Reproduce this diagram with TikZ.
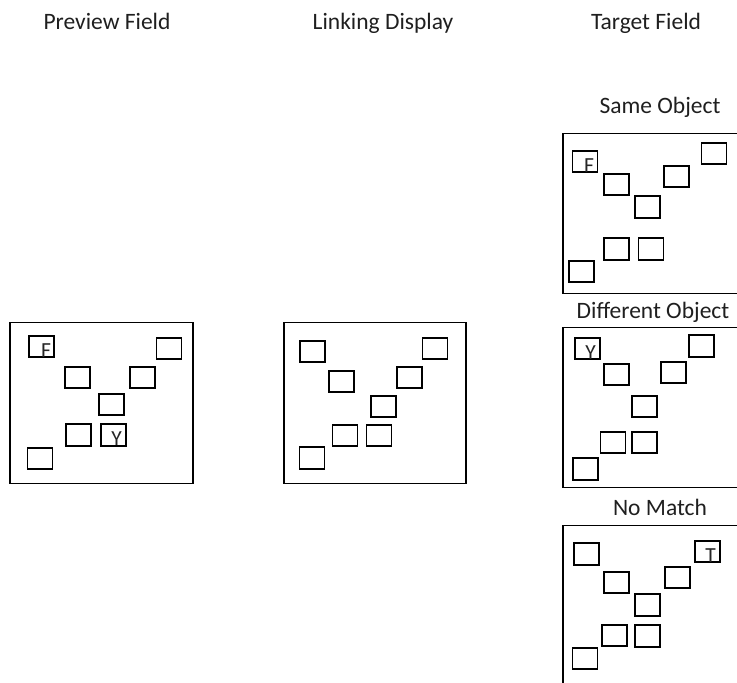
\documentclass[tikz,border=0pt]{standalone}
\usepackage{fontspec}
\setmainfont{Carlito}
\begin{document}
\begin{tikzpicture}[x=1pt,y=-1pt,
  panel/.style={draw=black,line width=1.4pt,inner sep=0pt,minimum width=#1,minimum height=160.5pt},
  sq/.style={draw=black,line width=1.8pt,inner sep=0pt,minimum width=25pt,minimum height=21.5pt},
  ttl/.style={anchor=base,font=\fontsize{23.5}{26}\selectfont,text=black!88,inner sep=0pt},
  ltr/.style={anchor=base,font=\fontsize{21.5}{22}\selectfont,text=black!85,inner sep=0pt}]
\useasboundingbox (0,0) rectangle (737,683);
\clip (0,0) rectangle (737,683);
% titles
\node[ttl] (tP) at (107,29) {Preview Field};
\node[ttl] (tL) at (383,29) {Linking Display};
\node[ttl] (tT) at (646,29) {Target Field};
\node[ttl] (tS) at (660,113) {Same Object};
\node[ttl] (tD) at (653,318) {Different Object};
\node[ttl] (tN) at (660,515) {No Match};
% panels
\node[panel=183pt] (PP) at (101.5,403) {};
\node[panel=182pt] (PL) at (375,403) {};
\node[panel=197pt] (PS) at (661.5,213.5) {};
\node[panel=197pt] (PD) at (661.5,407.5) {};
\node[panel=197pt] (PN) at (661.5,605.5) {};
% preview field
\node[sq] (p1) at (41.5,346.5) {};
\node[sq] (p2) at (169,348.5) {};
\node[sq] (p3) at (77.5,377.5) {};
\node[sq] (p4) at (142.5,377.5) {};
\node[sq] (p5) at (111.5,404.5) {};
\node[sq] (p6) at (78.5,435) {};
\node[sq] (p7) at (113.5,435) {};
\node[sq] (p8) at (40,458.5) {};
\node[ltr] (pF) at ([xshift=4.5pt,yshift=0.8pt]p1.south) {F};
\node[ltr] (pY) at ([xshift=3pt,yshift=0.8pt]p7.south) {Y};
% linking display
\node[sq] (m1) at (312.5,351.5) {};
\node[sq] (m2) at (435,348.5) {};
\node[sq] (m3) at (341.5,381.5) {};
\node[sq] (m4) at (409.5,377.5) {};
\node[sq] (m5) at (383.5,406.5) {};
\node[sq] (m6) at (345,435.5) {};
\node[sq] (m7) at (379,435.5) {};
\node[sq] (m8) at (312,458) {};
% same object
\node[sq] (s1) at (585,161.5) {};
\node[sq] (s2) at (714,153.5) {};
\node[sq] (s3) at (616.5,184.5) {};
\node[sq] (s4) at (676.5,176.5) {};
\node[sq] (s5) at (647.5,207) {};
\node[sq] (s6) at (616.5,249) {};
\node[sq] (s7) at (651,249) {};
\node[sq] (s8) at (581.5,271.5) {};
\node[ltr] (sF) at ([xshift=4pt,yshift=0.8pt]s1.south) {F};
% different object
\node[sq] (d1) at (587.5,348.5) {};
\node[sq] (d2) at (701.5,346) {};
\node[sq] (d3) at (616.5,374.5) {};
\node[sq] (d4) at (673.5,372.5) {};
\node[sq] (d5) at (644.5,406.5) {};
\node[sq] (d6) at (613,442.5) {};
\node[sq] (d7) at (644.5,442.5) {};
\node[sq] (d8) at (585.5,469) {};
\node[ltr] (dY) at ([xshift=3pt,yshift=0.8pt]d1.south) {Y};
% no match
\node[sq] (n1) at (586.5,554) {};
\node[sq] (n2) at (707.5,551.5) {};
\node[sq] (n3) at (616.5,582.5) {};
\node[sq] (n4) at (677.5,577.5) {};
\node[sq] (n5) at (647.5,605) {};
\node[sq] (n6) at (614.5,635.5) {};
\node[sq] (n7) at (647.5,636) {};
\node[sq] (n8) at (585,658.5) {};
\node[ltr] (nT) at ([xshift=3pt,yshift=0.8pt]n2.south) {T};
\end{tikzpicture}
\end{document}
